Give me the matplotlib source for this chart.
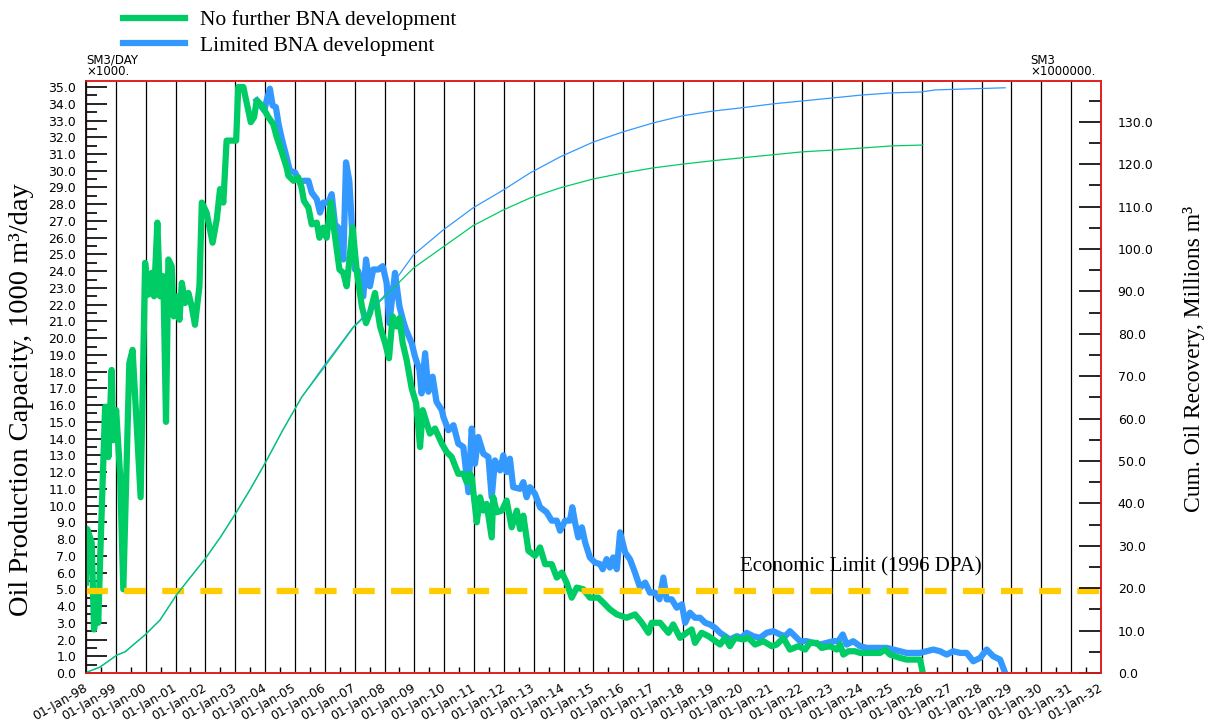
import numpy as np
import matplotlib
matplotlib.use("Agg")
import matplotlib.pyplot as plt
from matplotlib.ticker import MultipleLocator, FixedLocator

# oil rate, 1000 m3/day  (x = decimal year)
green_t = [1998.00, 1998.04, 1998.19, 1998.27, 1998.36, 1998.41, 1998.47, 1998.64, 1998.69, 1998.75,
           1998.86, 1998.91, 1999.01, 1999.14, 1999.25, 1999.45, 1999.56, 1999.83, 1999.98, 2000.09,
           2000.20, 2000.28, 2000.39, 2000.48, 2000.59, 2000.68, 2000.76, 2000.87, 2000.94, 2001.04,
           2001.13, 2001.21, 2001.32, 2001.43, 2001.54, 2001.65, 2001.80, 2001.88, 2002.04, 2002.24,
           2002.38, 2002.49, 2002.60, 2002.71, 2003.03, 2003.10, 2003.27, 2003.52, 2003.63, 2003.72,
           2003.89, 2004.11, 2004.27, 2004.39, 2004.56, 2004.72, 2004.78, 2004.95, 2005.11, 2005.22,
           2005.30, 2005.45, 2005.56, 2005.73, 2005.82, 2005.95, 2006.06, 2006.20, 2006.28, 2006.40,
           2006.49, 2006.62, 2006.73, 2006.79, 2006.93, 2007.07, 2007.24, 2007.38, 2007.51, 2007.68,
           2007.85, 2008.02, 2008.15, 2008.27, 2008.41, 2008.50, 2008.61, 2008.74, 2008.91, 2009.06,
           2009.19, 2009.28, 2009.52, 2009.69, 2009.92, 2010.08, 2010.25, 2010.47, 2010.64, 2010.75,
           2010.86, 2010.92, 2011.09, 2011.20, 2011.31, 2011.42, 2011.59, 2011.64, 2011.76, 2011.93,
           2012.09, 2012.26, 2012.43, 2012.54, 2012.65, 2012.82, 2013.04, 2013.21, 2013.38, 2013.60,
           2013.77, 2013.94, 2014.10, 2014.27, 2014.44, 2014.66, 2014.88, 2015.16, 2015.33, 2015.55,
           2015.78, 2016.11, 2016.39, 2016.62, 2016.84, 2016.95, 2017.23, 2017.51, 2017.67, 2017.90,
           2018.12, 2018.29, 2018.40, 2018.62, 2018.85, 2019.01, 2019.24, 2019.41, 2019.57, 2019.74,
           2020.02, 2020.19, 2020.41, 2020.69, 2020.97, 2021.14, 2021.36, 2021.58, 2021.86, 2022.09,
           2022.25, 2022.48, 2022.64, 2022.92, 2023.15, 2023.26, 2023.37, 2023.54, 2023.76, 2023.93,
           2024.15, 2024.37, 2024.60, 2024.77, 2024.93, 2025.10, 2025.27, 2025.49, 2025.72, 2025.94,
           2026.03]
green_q = [5.4, 8.6, 7.8, 2.6, 4.2, 3.0, 6.6, 15.9, 15.9, 12.9,
           18.1, 13.9, 15.7, 11.9, 5.0, 18.5, 19.3, 10.5, 24.5, 22.6,
           23.9, 22.5, 26.9, 22.5, 23.7, 15.0, 24.7, 24.3, 21.3, 22.5,
           21.1, 23.3, 22.1, 22.7, 21.9, 20.8, 23.1, 28.1, 27.5, 25.7,
           27.1, 28.9, 28.1, 31.8, 31.8, 35.0, 35.0, 32.9, 33.2, 34.2,
           33.9, 33.2, 32.8, 32.0, 31.1, 30.2, 29.7, 29.4, 29.6, 29.0,
           28.2, 27.8, 26.8, 26.9, 26.0, 26.6, 26.0, 28.1, 26.9, 25.3,
           24.1, 23.9, 23.1, 24.1, 26.6, 24.0, 21.9, 20.9, 21.5, 22.7,
           20.7, 19.7, 18.8, 21.3, 20.7, 21.2, 19.7, 18.7, 17.0, 16.1,
           13.5, 15.7, 14.3, 14.6, 13.7, 13.2, 12.9, 11.9, 11.9, 11.4,
           11.9, 11.7, 9.0, 10.5, 9.7, 10.1, 8.1, 10.5, 9.6, 9.7,
           10.3, 8.7, 9.7, 8.6, 9.4, 7.3, 7.0, 7.5, 6.5, 6.5,
           5.7, 6.0, 5.4, 4.5, 5.1, 5.0, 4.5, 4.5, 4.2, 3.8,
           3.5, 3.3, 3.5, 3.0, 2.4, 3.0, 3.0, 2.4, 2.9, 2.1,
           2.4, 2.6, 1.8, 2.4, 2.2, 2.0, 1.7, 2.1, 1.6, 2.1,
           2.0, 2.1, 1.7, 1.9, 1.6, 1.7, 2.1, 1.4, 1.6, 1.4,
           1.8, 1.8, 1.5, 1.6, 1.4, 1.7, 1.1, 1.3, 1.3, 1.2,
           1.2, 1.2, 1.2, 1.4, 1.1, 1.0, 0.9, 0.8, 0.8, 0.8,
           0.0]

blue_t = [2003.72, 2003.97, 2004.08, 2004.16, 2004.25, 2004.36, 2004.45, 2004.56, 2004.72, 2004.83,
          2005.00, 2005.17, 2005.28, 2005.45, 2005.56, 2005.73, 2005.84, 2005.95, 2006.12, 2006.23,
          2006.34, 2006.51, 2006.62, 2006.71, 2006.82, 2006.90, 2007.01, 2007.12, 2007.29, 2007.38,
          2007.51, 2007.62, 2007.79, 2007.94, 2008.07, 2008.16, 2008.35, 2008.50, 2008.63, 2008.72,
          2008.91, 2009.02, 2009.17, 2009.24, 2009.36, 2009.47, 2009.61, 2009.74, 2009.92, 2009.97,
          2010.14, 2010.31, 2010.47, 2010.64, 2010.81, 2010.92, 2011.03, 2011.14, 2011.31, 2011.48,
          2011.59, 2011.70, 2011.87, 2011.98, 2012.09, 2012.20, 2012.31, 2012.54, 2012.65, 2012.76,
          2012.87, 2013.04, 2013.21, 2013.43, 2013.60, 2013.77, 2013.88, 2014.05, 2014.21, 2014.29,
          2014.38, 2014.49, 2014.61, 2014.72, 2014.88, 2015.05, 2015.22, 2015.31, 2015.44, 2015.55,
          2015.66, 2015.78, 2015.89, 2016.06, 2016.22, 2016.39, 2016.56, 2016.73, 2016.89, 2017.06,
          2017.21, 2017.34, 2017.45, 2017.62, 2017.79, 2017.96, 2018.07, 2018.23, 2018.40, 2018.57,
          2018.74, 2018.90, 2019.07, 2019.24, 2019.41, 2019.57, 2019.80, 2019.96, 2020.13, 2020.35,
          2020.58, 2020.80, 2021.02, 2021.25, 2021.42, 2021.58, 2021.75, 2021.92, 2022.14, 2022.36,
          2022.59, 2022.81, 2023.03, 2023.20, 2023.35, 2023.48, 2023.70, 2023.93, 2024.15, 2024.37,
          2024.60, 2024.82, 2025.05, 2025.27, 2025.49, 2025.72, 2025.94, 2026.16, 2026.38, 2026.61,
          2026.83, 2027.05, 2027.28, 2027.50, 2027.72, 2027.95, 2028.17, 2028.39, 2028.62, 2028.79]
blue_q = [34.2, 33.6, 34.4, 34.9, 33.9, 33.8, 32.8, 31.9, 30.8, 30.0,
          29.9, 29.3, 29.4, 29.4, 28.7, 28.3, 27.5, 28.1, 28.1, 28.6,
          26.8, 26.5, 24.7, 30.5, 29.4, 26.9, 24.1, 24.0, 22.5, 24.7,
          23.1, 24.1, 24.1, 24.3, 23.3, 20.9, 23.9, 21.9, 21.0, 20.5,
          19.7, 18.9, 18.1, 16.7, 19.1, 16.8, 17.7, 16.2, 15.7, 15.3,
          14.5, 14.8, 13.7, 13.5, 10.8, 14.6, 12.5, 14.1, 13.1, 12.9,
          10.5, 12.7, 12.1, 13.0, 12.0, 12.8, 11.1, 11.0, 11.4, 10.5,
          11.1, 10.7, 9.9, 9.6, 9.1, 9.1, 8.5, 9.1, 9.1, 9.9,
          9.0, 8.1, 8.7, 7.8, 6.9, 6.6, 6.5, 6.2, 6.8, 6.3,
          6.9, 6.2, 8.4, 7.2, 6.8, 6.0, 5.1, 5.4, 4.8, 4.8,
          4.4, 5.7, 4.4, 4.4, 3.9, 4.1, 3.0, 3.6, 3.3, 3.3,
          3.0, 2.9, 2.7, 2.4, 2.2, 2.0, 2.2, 2.1, 2.4, 2.2,
          2.1, 2.4, 2.5, 2.3, 2.2, 2.5, 2.2, 1.9, 1.9, 1.8,
          1.7, 1.8, 1.9, 1.9, 2.3, 1.7, 1.9, 1.6, 1.5, 1.5,
          1.5, 1.5, 1.4, 1.3, 1.2, 1.2, 1.2, 1.3, 1.4, 1.3,
          1.1, 1.3, 1.2, 1.2, 0.7, 0.9, 1.4, 1.0, 0.8, 0.0]

# cumulative oil, million m3
green_cum_t = [1998.00, 1998.03, 1998.47, 1999.03, 1999.31, 1999.98, 2000.48, 2001.03, 2001.50, 2002.00,
               2002.50, 2003.00, 2003.50, 2004.00, 2004.61, 2005.23, 2005.95, 2006.95, 2007.96, 2008.97,
               2009.97, 2010.97, 2011.98, 2012.87, 2013.88, 2014.99, 2015.99, 2016.99, 2017.99, 2018.99,
               2019.99, 2021.00, 2022.00, 2023.00, 2024.00, 2025.00, 2026.03]
green_cum = [0.0, 0.2, 1.4, 4.2, 5.0, 9.0, 12.5, 18.4, 22.6, 27.0,
             32.0, 37.5, 43.3, 49.5, 57.5, 65.1, 71.8, 81.4, 88.4, 95.5,
             100.5, 105.5, 109.2, 112.0, 114.4, 116.5, 117.9, 119.1, 120.0, 120.8,
             121.5, 122.2, 122.9, 123.3, 123.8, 124.3, 124.5]

blue_cum_t = [1998.00, 1998.03, 1998.47, 1999.03, 1999.31, 1999.98, 2000.48, 2001.03, 2001.50, 2002.00,
              2002.50, 2003.00, 2003.50, 2004.00, 2004.61, 2005.23, 2005.95, 2006.95, 2007.96, 2008.97,
              2009.97, 2010.97, 2011.98, 2012.87, 2013.88, 2014.99, 2015.99, 2016.99, 2017.99, 2018.99,
              2019.99, 2021.00, 2022.00, 2023.00, 2024.00, 2025.00, 2025.95, 2026.45, 2028.79]
blue_cum = [0.0, 0.2, 1.4, 4.2, 5.0, 9.0, 12.5, 18.4, 22.6, 27.0,
            32.0, 37.5, 43.3, 49.5, 57.5, 65.1, 72.2, 81.6, 88.7, 98.6,
            104.5, 109.7, 113.9, 117.9, 121.7, 125.2, 127.6, 129.7, 131.4, 132.5,
            133.3, 134.2, 134.9, 135.6, 136.3, 136.8, 137.0, 137.5, 138.0]

econ_limit = 4.9
years = list(range(1998, 2033))
year_labels = ["01-Jan-%02d" % (y % 100) for y in years]

green = "#00CC66"
blue = "#3399FF"
red = "#E02020"
serif = ["Liberation Serif", "DejaVu Serif"]

fig = plt.figure(figsize=(12.11, 7.23), dpi=100)
ax = fig.add_axes([86 / 1211, 1 - 673 / 723, (1101 - 86) / 1211, (673 - 81) / 723])
ax2 = ax.twinx()

ax.plot(blue_t, blue_q, color=blue, lw=4.5, solid_joinstyle="round", zorder=3,
        label="Limited BNA development")
ax.plot(green_t, green_q, color=green, lw=4.5, solid_joinstyle="round", zorder=4,
        label="No further BNA development")
ax.axhline(econ_limit, color="#FFCC00", lw=4.5, dashes=(3.5, 2.6), zorder=5)
ax.text(2019.9, econ_limit + 0.85, "Economic Limit (1996 DPA)", family=serif, fontsize=15,
        va="bottom", ha="left")

ax2.plot(blue_cum_t, blue_cum, color=blue, lw=0.9)
ax2.plot(green_cum_t, green_cum, color=green, lw=0.9)

# axes ranges
ax.set_xlim(1998, 2032)
ax.set_ylim(0, 35.36)
ax2.set_ylim(0, 139.6)

# x ticks / yearly grid
ax.xaxis.set_major_locator(FixedLocator(years))
ax.set_xticklabels(year_labels, rotation=30, ha="right", va="center", rotation_mode="anchor")
ax.xaxis.set_minor_locator(FixedLocator([y + 0.5 for y in years[:-1]]))
ax.grid(axis="x", color="black", lw=0.9)
ax.set_axisbelow(True)
ax.tick_params(axis="x", which="major", direction="in", length=0, pad=10, labelsize=9)
ax.tick_params(axis="x", which="minor", direction="in", length=4, width=1)

# left y
ax.yaxis.set_major_locator(MultipleLocator(1.0))
ax.yaxis.set_minor_locator(MultipleLocator(0.5))
ax.yaxis.set_major_formatter("{x:.1f}")
ax.tick_params(axis="y", which="major", direction="in", length=15, width=1.2, pad=7, labelsize=9)
ax.tick_params(axis="y", which="minor", direction="in", length=8, width=1.2)

# right y
ax2.yaxis.set_major_locator(MultipleLocator(10))
ax2.yaxis.set_minor_locator(MultipleLocator(5))
ax2.yaxis.set_major_formatter("{x:.1f}")
ax2.tick_params(axis="y", which="major", direction="in", length=16, width=1.2, pad=12, labelsize=9)
ax2.tick_params(axis="y", which="minor", direction="in", length=9, width=1.2)

for a in (ax, ax2):
    a.spines["top"].set_color(red)
    a.spines["right"].set_color(red)
    a.spines["bottom"].set_color(red)
    a.spines["left"].set_color("#201010")
    for s in a.spines.values():
        s.set_linewidth(1.2)

# unit captions above the axes
fig.text(86 / 1211, 1 - 78 / 723, "SM3/DAY\n\u00d71000.", fontsize=8.5, va="bottom", ha="left",
         linespacing=0.85)
fig.text(1030 / 1211, 1 - 78 / 723, "SM3\n\u00d71000000.", fontsize=8.5, va="bottom", ha="left",
         linespacing=0.85)

# axis titles
fig.text(22 / 1211, 1 - 400 / 723, "Oil Production Capacity, 1000 m\u00b3/day", family=serif,
         fontsize=20.5, rotation=90, ha="center", va="center")
fig.text(1194 / 1211, 1 - 359 / 723, "Cum. Oil Recovery, Millions m\u00b3", family=serif,
         fontsize=17, rotation=90, ha="center", va="center")

h, l = ax.get_legend_handles_labels()
fig.legend(h[::-1], l[::-1], loc="upper left", bbox_to_anchor=(123 / 1211, 1 - 10 / 723),
           frameon=False, prop={"family": serif, "size": 15.5}, handlelength=2.9,
           handletextpad=0.7, labelspacing=0.25, borderpad=0, borderaxespad=0)

fig.savefig("out.png", dpi=100)
